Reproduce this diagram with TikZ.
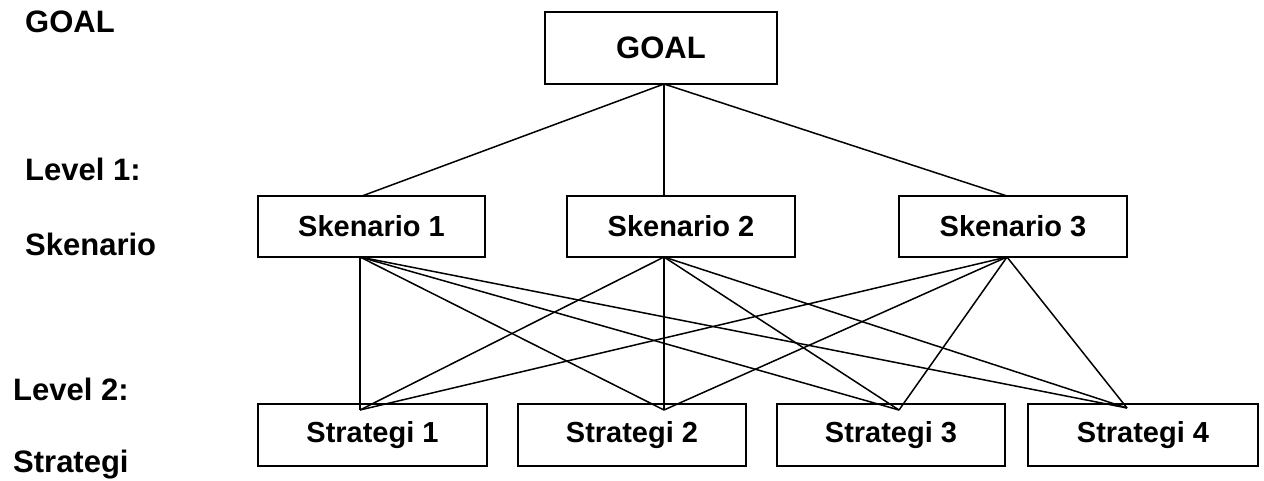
\documentclass[tikz,border=0pt]{standalone}
\usepackage{fontspec}
\setmainfont{Liberation Sans}
\begin{document}
\begin{tikzpicture}[x=1pt,y=-1pt,
  box/.style={draw=black,line width=1.6pt,rectangle,inner sep=0pt,font=\fontsize{29}{34}\selectfont\bfseries},
  bigfont/.style={font=\fontsize{31}{36}\selectfont\bfseries},
  lbl/.style={inner sep=0pt,anchor=base west,bigfont},
  link/.style={line width=1.5pt}]
\useasboundingbox (0,0) rectangle (1264,480);
% side labels
\node[lbl] (lg) at (25,32) {GOAL};
\node[lbl] (l1) at (25,180) {Level 1:};
\node[lbl] (l1b) at (25,255) {Skenario};
\node[lbl] (l2) at (13,400) {Level 2:};
\node[lbl] (l2b) at (13,472) {Strategi};
% boxes
\node[box,bigfont,minimum width=232pt,minimum height=72pt] (goal) at (661,48) {GOAL};
\node[box,minimum width=227pt,minimum height=61pt] (sk1) at (371.5,226.5) {Skenario 1};
\node[box,minimum width=228pt,minimum height=61pt] (sk2) at (681,226.5) {Skenario 2};
\node[box,minimum width=228pt,minimum height=61pt] (sk3) at (1013,226.5) {Skenario 3};
\node[box,minimum width=229pt,minimum height=62pt] (st1) at (372.5,435) {Strategi 1};
\node[box,minimum width=228pt,minimum height=62pt] (st2) at (632,435) {Strategi 2};
\node[box,minimum width=228pt,minimum height=62pt] (st3) at (891,435) {Strategi 3};
\node[box,minimum width=230pt,minimum height=62pt] (st4) at (1143,435) {Strategi 4};
% connection points
\coordinate (gb) at (664,84);
\coordinate (k1t) at (362,196);
\coordinate (k2t) at (664,196);
\coordinate (k3t) at (1007,196);
\coordinate (k1b) at (360,257);
\coordinate (k2b) at (664,257);
\coordinate (k3b) at (1007,257);
\coordinate (s1t) at (360,410);
\coordinate (s2t) at (664,410);
\coordinate (s3t) at (899,410);
\coordinate (s4t) at (1127,408);
% links
\draw[link] (gb) -- (k1t);
\draw[link] (gb) -- (k2t);
\draw[link] (gb) -- (k3t);
\foreach \k in {k1b,k2b,k3b}{
  \foreach \s in {s1t,s2t,s3t,s4t}{
    \draw[link] (\k) -- (\s);
  }
}
\end{tikzpicture}
\end{document}
